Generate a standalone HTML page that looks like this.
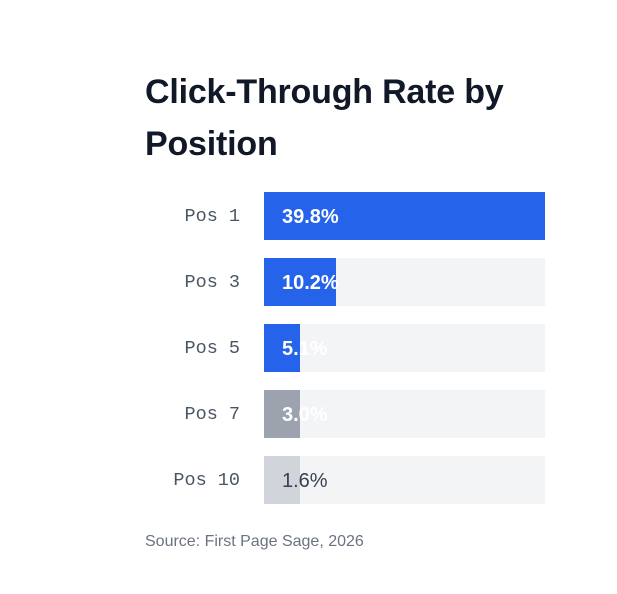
<!DOCTYPE html>
<html><head><style>
body{margin:0;width:617px;height:594px;background:#fff;position:relative;overflow:hidden;font-family:"Liberation Sans",sans-serif}
.t{position:absolute;left:145px;top:66px;font-size:34px;font-weight:bold;color:#111827;line-height:52px;width:420px;letter-spacing:-0.2px}
.row{position:absolute;left:0;width:617px;height:48px}
.lab{position:absolute;right:377px;top:1px;line-height:48px;font-family:"Liberation Mono",monospace;font-size:18.5px;color:#4b5563}
.bg{position:absolute;left:264px;width:281px;height:48px;background:#f3f4f6}
.bar{position:absolute;left:264px;height:48px}
.v{position:absolute;left:282px;top:1px;line-height:48px;font-size:20px;font-weight:bold;color:#fff}
.s{position:absolute;left:145px;top:533px;font-size:16px;color:#6b7280}
</style></head><body>
<div class="t">Click-Through Rate by Position</div>
<div class="row" style="top:192px"><div class="lab">Pos 1</div><div class="bg"></div><div class="bar" style="width:281px;background:#2563eb"></div><div class="v">39.8%</div></div>
<div class="row" style="top:258px"><div class="lab">Pos 3</div><div class="bg"></div><div class="bar" style="width:72px;background:#2563eb"></div><div class="v">10.2%</div></div>
<div class="row" style="top:324px"><div class="lab">Pos 5</div><div class="bg"></div><div class="bar" style="width:36px;background:#2563eb"></div><div class="v">5.1%</div></div>
<div class="row" style="top:390px"><div class="lab">Pos 7</div><div class="bg"></div><div class="bar" style="width:36px;background:#9ca3af"></div><div class="v">3.0%</div></div>
<div class="row" style="top:456px"><div class="lab">Pos 10</div><div class="bg"></div><div class="bar" style="width:36px;background:#d1d5db"></div><div class="v" style="color:#374151;font-weight:normal">1.6%</div></div>
<div class="s">Source: First Page Sage, 2026</div>
</body></html>
